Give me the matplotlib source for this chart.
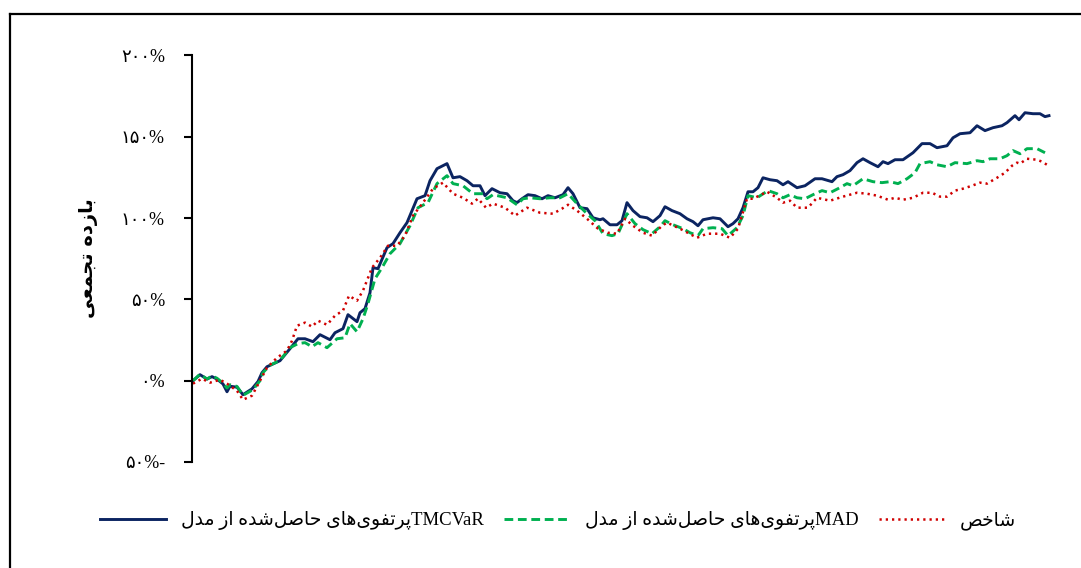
import matplotlib
matplotlib.use("Agg")
import matplotlib.pyplot as plt
from matplotlib.lines import Line2D

# ---------------- data (cumulative return, %) ----------------
t_tmcvar = [0, 7, 14, 19, 24, 30, 34, 37, 44, 50, 59, 65, 69, 74, 87, 97, 105, 112, 120, 127, 137, 142,
            150, 155, 164, 167, 172, 177, 180, 185, 194, 200, 207, 214, 224, 232, 237, 244, 254, 260,
            267, 274, 280, 287, 292, 299, 307, 314, 320, 324, 329, 335, 342, 349, 355, 362, 370, 375,
            380, 387, 394, 400, 407, 410, 417, 424, 429, 434, 440, 447, 454, 460, 467, 472, 479, 487,
            494, 500, 505, 510, 520, 527, 535, 540, 545, 550, 555, 560, 565, 570, 577, 584, 590, 595,
            604, 612, 622, 629, 639, 644, 650, 657, 664, 670, 677, 685, 690, 695, 702, 710, 720, 729,
            737, 744, 754, 760, 767, 777, 784, 792, 800, 809, 814, 822, 826, 832, 840, 847, 852, 856]
r_tmcvar = [0.0, 3.7, 1.0, 2.5, 1.0, -2.0, -6.8, -3.4, -4.0, -8.6, -5.0, -0.5, 4.9, 8.6, 12.3, 19.7, 25.8,
            25.8, 24.0, 28.3, 25.2, 29.5, 32.0, 40.6, 36.3, 41.8, 44.3, 54.1, 69.5, 68.9, 81.8, 84.3,
            91.0, 97.2, 111.9, 113.8, 123.0, 130.4, 133.5, 124.8, 125.5, 123.0, 119.9, 119.9, 113.8,
            118.1, 115.6, 115.0, 110.7, 109.5, 111.9, 114.4, 113.8, 111.9, 113.8, 112.5, 114.4, 118.7,
            115.0, 106.4, 105.8, 100.2, 99.0, 99.6, 95.9, 95.9, 98.4, 109.5, 104.6, 100.9, 100.2, 97.8,
            101.5, 107.0, 104.6, 102.7, 99.6, 97.8, 95.3, 99.0, 100.2, 99.6, 94.7, 96.6, 99.6, 106.4,
            116.2, 116.2, 118.7, 124.8, 123.6, 123.0, 120.5, 122.4, 118.7, 119.9, 124.2, 124.2, 122.4,
            125.5, 126.7, 129.2, 134.1, 136.5, 134.1, 131.6, 134.7, 133.5, 135.9, 135.9, 140.2, 145.8,
            145.8, 143.3, 144.5, 149.4, 151.9, 152.5, 156.8, 153.8, 155.6, 156.8, 158.7, 163.0, 160.5,
            164.8, 164.2, 164.2, 162.4, 163.0]

t_mad = [0, 7, 14, 19, 24, 30, 34, 37, 44, 50, 60, 67, 70, 77, 87, 97, 105, 112, 119, 125, 134, 144,
         152, 157, 164, 170, 175, 182, 189, 197, 207, 217, 225, 235, 244, 254, 260, 270, 280, 290, 294,
         300, 314, 324, 330, 337, 347, 357, 367, 375, 384, 394, 402, 410, 419, 425, 434, 442, 450, 459,
         467, 472, 480, 490, 497, 505, 510, 520, 529, 535, 544, 550, 555, 564, 575, 584, 590, 597, 604,
         612, 620, 629, 637, 645, 654, 660, 670, 680, 689, 697, 705, 714, 722, 727, 737, 744, 754, 762,
         774, 784, 790, 797, 807, 814, 820, 827, 834, 844, 852]
r_mad = [0.0, 4.0, 1.0, 3.0, 1.5, -1.5, -4.5, -2.5, -3.5, -9.0, -5.5, 0.0, 5.0, 9.5, 12.5, 20.3, 22.8,
         23.4, 20.9, 23.4, 20.3, 25.8, 26.4, 35.1, 30.1, 38.1, 47.4, 62.7, 69.5, 78.1, 84.3, 95.3, 106.4,
         109.5, 121.2, 126.1, 121.2, 119.9, 115.0, 115.0, 111.9, 114.4, 112.5, 108.2, 111.9, 112.5,
         111.9, 112.5, 112.5, 115.0, 108.9, 102.7, 98.4, 90.4, 89.2, 90.4, 102.7, 96.6, 92.9, 90.4,
         94.7, 98.4, 95.9, 93.5, 91.0, 89.2, 93.5, 94.1, 93.5, 89.2, 94.1, 101.5, 113.8, 112.5, 116.9,
         115.0, 112.5, 114.4, 112.5, 111.9, 114.4, 116.9, 115.6, 118.1, 121.2, 119.9, 124.2, 122.4,
         121.8, 122.4, 121.2, 124.2, 127.9, 133.5, 134.7, 132.8, 131.6, 134.1, 133.5, 135.3, 134.7,
         136.5, 136.5, 138.4, 141.5, 139.6, 142.7, 142.7, 140.2]

t_index = [0, 9, 17, 27, 34, 44, 50, 59, 67, 74, 84, 94, 99, 104, 112, 119, 125, 134, 142, 150, 156,
           164, 170, 179, 187, 195, 204, 212, 220, 230, 240, 250, 260, 270, 279, 285, 293, 300, 312,
           322, 334, 347, 360, 369, 375, 384, 394, 405, 415, 424, 432, 440, 450, 459, 469, 474, 487,
           504, 514, 527, 537, 545, 554, 560, 574, 584, 590, 597, 604, 615, 624, 637, 650, 664, 674,
           684, 695, 702, 710, 720, 730, 739, 747, 754, 762, 770, 779, 787, 794, 804, 812, 819, 824,
           827, 834, 844, 849, 854]
r_index = [-1.8, 1.2, -1.2, 0.6, -1.8, -6.2, -11.7, -9.2, 0.0, 8.0, 14.1, 18.5, 24.6, 33.8, 35.7, 33.2,
           36.9, 34.4, 40.0, 43.1, 52.3, 49.2, 55.4, 69.5, 75.6, 83.0, 83.0, 89.2, 101.5, 109.5, 118.1,
           121.8, 115.0, 112.5, 108.9, 112.0, 106.4, 108.9, 106.4, 101.5, 106.4, 103.3, 102.7, 105.8,
           108.2, 104.6, 99.6, 93.5, 91.0, 90.4, 99.6, 95.3, 91.0, 89.2, 95.3, 97.2, 93.5, 87.9, 90.4,
           90.4, 87.9, 93.5, 111.9, 111.9, 116.2, 112.5, 109.5, 110.7, 106.4, 106.4, 112.5, 110.7,
           113.2, 115.6, 115.0, 113.8, 111.3, 112.5, 111.3, 112.5, 115.6, 115.6, 113.2, 113.2, 116.9,
           118.1, 119.9, 121.8, 121.2, 124.8, 127.9, 132.2, 134.1, 133.5, 136.5, 135.9, 134.7, 132.8]

label_fa = ["پرتفوی‌های حاصل‌شده از مدل", "پرتفوی‌های حاصل‌شده از مدل", "شاخص"]
label_en = ["TMCVaR", "MAD", ""]
y_label = "بازده تجمعی"
y_ticks = [-50, 0, 50, 100, 150, 200]

# ---------------- minimal Persian shaping ----------------
FORMS = {  # isolated, final, initial, medial
    'ا': ('\uFE8D', '\uFE8E', None, None),
    'ب': ('\uFE8F', '\uFE90', '\uFE91', '\uFE92'),
    'پ': ('\uFB56', '\uFB57', '\uFB58', '\uFB59'),
    'ت': ('\uFE95', '\uFE96', '\uFE97', '\uFE98'),
    'ج': ('\uFE9D', '\uFE9E', '\uFE9F', '\uFEA0'),
    'ح': ('\uFEA1', '\uFEA2', '\uFEA3', '\uFEA4'),
    'خ': ('\uFEA5', '\uFEA6', '\uFEA7', '\uFEA8'),
    'د': ('\uFEA9', '\uFEAA', None, None),
    'ر': ('\uFEAD', '\uFEAE', None, None),
    'ز': ('\uFEAF', '\uFEB0', None, None),
    'ش': ('\uFEB5', '\uFEB6', '\uFEB7', '\uFEB8'),
    'ص': ('\uFEB9', '\uFEBA', '\uFEBB', '\uFEBC'),
    'ع': ('\uFEC9', '\uFECA', '\uFECB', '\uFECC'),
    'ف': ('\uFED1', '\uFED2', '\uFED3', '\uFED4'),
    'ل': ('\uFEDD', '\uFEDE', '\uFEDF', '\uFEE0'),
    'م': ('\uFEE1', '\uFEE2', '\uFEE3', '\uFEE4'),
    'ه': ('\uFEE9', '\uFEEA', '\uFEEB', '\uFEEC'),
    'و': ('\uFEED', '\uFEEE', None, None),
    'ی': ('\uFBFC', '\uFBFD', '\uFBFE', '\uFBFF'),
}


def dual(c):
    return c in FORMS and FORMS[c][2] is not None


def rtl(s):
    out = []
    for i, c in enumerate(s):
        if c not in FORMS:
            if c != '\u200c':
                out.append(c)
            continue
        prev = s[i - 1] if i > 0 else ''
        nxt = s[i + 1] if i + 1 < len(s) else ''
        cp = dual(prev)
        cn = dual(c) and nxt in FORMS
        f = FORMS[c]
        if cp and cn:
            out.append(f[3])
        elif cp:
            out.append(f[1])
        elif cn:
            out.append(f[2])
        else:
            out.append(f[0])
    return ''.join(reversed(out))


FA_DIGITS = str.maketrans('0123456789', '۰۱۲۳۴۵۶۷۸۹')


def fa_pct(v):
    s = str(abs(v)).translate(FA_DIGITS) + '%'
    return s + '-' if v < 0 else s


# ---------------- figure ----------------
W, H = 1081, 568
fig = plt.figure(figsize=(W / 100, H / 100), dpi=100)
fam = ['Liberation Serif', 'DejaVu Sans']

ax = fig.add_axes([192 / W, 1 - 462 / H, (1063 - 192) / W, (462 - 55.5) / H])
ax.set_xlim(-1, 870)
ax.set_ylim(-50, 200)

navy = '#0B2461'
green = '#00B050'
red = '#D00000'
l1, = ax.plot(t_tmcvar, r_tmcvar, color=navy, lw=2.1, solid_joinstyle='round')
l2, = ax.plot(t_mad, r_mad, color=green, lw=2.1, linestyle=(0, (3.0, 1.6)))
l3, = ax.plot(t_index, r_index, color=red, lw=1.8, linestyle=(0, (0.9, 1.6)))

for s in ['top', 'right', 'bottom']:
    ax.spines[s].set_visible(False)
ax.spines['left'].set_linewidth(1.5)
ax.set_xticks([])
ax.set_yticks(y_ticks)
ax.set_yticklabels([fa_pct(v) for v in y_ticks], family=fam, fontsize=13)
ax.tick_params(axis='y', direction='out', length=6, width=1.5, pad=13.5)

fig.text(88 / W, 1 - 258 / H, rtl(y_label), rotation=90, ha='center', va='center',
         family=['DejaVu Sans'], fontsize=14, fontweight='bold')

labels = [rtl(fa) + en for fa, en in zip(label_fa, label_en)]
leg = fig.legend([l1, l2, l3], labels, loc='center', ncol=3,
                 bbox_to_anchor=(558 / W, 1 - 521 / H), frameon=False,
                 prop={'family': fam, 'size': 13.5}, handlelength=3.5,
                 handletextpad=0.8, columnspacing=1.1)

# outer frame (left and top edges)
fig.add_artist(Line2D([10 / W, 10 / W], [0, 1 - 14 / H], color='black', lw=1.6,
                      transform=fig.transFigure))
fig.add_artist(Line2D([10 / W, 1], [1 - 14 / H, 1 - 14 / H], color='black', lw=1.6,
                      transform=fig.transFigure))

fig.savefig('out.png', dpi=100)
